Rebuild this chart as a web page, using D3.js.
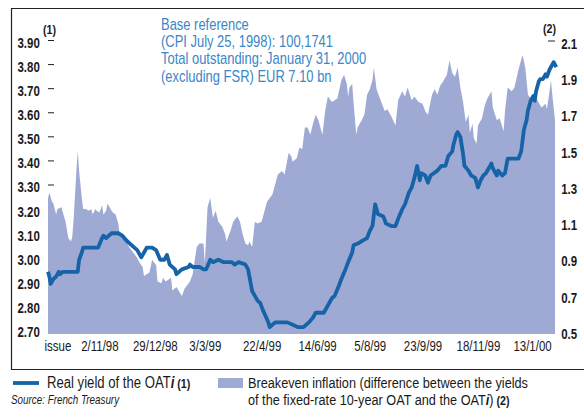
<!DOCTYPE html>
<html>
<head>
<meta charset="utf-8">
<script src="https://cdn.jsdelivr.net/npm/d3@7"></script>
<style>
    body { margin: 0; background: #fff; }
    svg { display: block; }
    text { font-family: "Liberation Sans", Arial, sans-serif; }
</style>
</head>
<body>
<svg id="chart" width="584" height="418"></svg>
<script>
(function() {
    'use strict';

    // Breakeven inflation (right axis), by observation day since issue
    const beDays = [0,1,3,4,6,7,10,11,13,15,17,18,19,21,22,23,25,26,28,30,
        32,33,35,36,38,40,41,43,44,47,48,50,52,53,57,60,63,66,68,70,
        71,73,75,77,78,80,81,84,85,87,89,91,92,95,99,101,105,107,110,112,
        115,116,118,120,122,124,126,129,131,132,135,137,140,142,144,146,148,149,151,153,
        155,158,162,164,166,170,173,175,178,180,181,184,186,188,190,192,194,196,198,200,
        203,205,207,210,212,214,217,219,221,222,223,225,226,228,229,232,234,236,238,240,
        241,243,244,247,249,251,254,257,259,262,264,266,269,271,274,277,279,281,284,286,
        288,290,292,295,297,299,301,303,305,307,309,311,312,314,315,317,318,321,323,325,
        328,329,332,334,337,338,340,343,345,348,351,353,355,358,360,362,365,368,369,371,
        372,373,375];
    const breakeven = [1.25,1.28,1.23,1.22,1.16,1.19,1.20,1.17,1.12,1.03,
        1.01,1.04,1.14,1.40,1.51,1.40,1.25,1.19,1.19,1.18,
        1.19,1.16,1.19,1.18,1.17,1.21,1.16,1.18,1.22,1.18,
        1.17,1.16,1.11,1.05,1.03,0.98,0.95,0.92,0.89,0.87,
        0.82,0.83,0.84,0.91,0.90,0.88,0.79,0.78,0.81,0.79,
        0.80,0.81,0.74,0.76,0.71,0.75,0.79,0.83,0.98,1.00,
        1.00,0.89,1.20,1.25,1.14,1.18,1.12,1.09,1.05,1.01,
        1.07,1.12,1.15,1.12,1.05,1.00,0.99,1.01,0.98,1.12,
        1.11,1.12,1.23,1.25,1.27,1.38,1.40,1.38,1.50,1.48,
        1.45,1.47,1.53,1.52,1.64,1.64,1.60,1.66,1.71,1.68,
        1.60,1.73,1.81,1.78,1.79,1.80,1.90,1.93,1.88,1.81,
        1.86,1.88,1.78,1.60,1.64,1.68,1.71,1.82,1.85,1.90,
        1.97,1.85,1.83,1.77,1.73,1.74,1.70,1.65,1.79,1.84,
        1.81,1.86,1.79,1.81,1.78,1.77,1.73,1.71,1.82,1.85,
        1.82,1.87,1.89,1.93,2.01,1.94,1.92,1.97,1.86,1.78,
        1.67,1.71,1.61,1.66,1.58,1.55,1.65,1.69,1.76,1.80,
        1.84,1.75,1.68,1.69,1.62,1.73,1.86,1.84,1.86,1.96,
        2.04,1.97,1.82,1.79,1.81,1.79,1.75,1.77,1.74,1.84,
        1.90,1.82,1.68];

    // Real yield of the OATi (left axis)
    const ryDays = [0,1,2,3,4,6,8,9,11,22,
        23,25,26,27,37,40,41,43,45,47,
        50,52,55,58,62,66,69,73,77,80,
        83,86,88,90,94,95,99,104,105,107,
        112,115,117,120,122,126,130,136,138,141,
        146,148,151,153,155,157,159,163,164,168,
        172,177,181,185,189,193,196,198,200,204,
        207,210,212,215,217,220,222,225,226,230,
        233,236,238,240,242,244,248,250,254,257,
        259,262,264,267,269,271,273,275,276,279,
        281,283,288,291,294,296,299,300,302,303,
        305,307,308,311,313,316,318,320,322,324,
        327,328,329,332,333,336,338,340,348,350,
        352,354,355,357,359,360,361,363,364,366,
        368,369,371,373,374,376];
    const realYield = [2.95,2.93,2.90,2.91,2.92,2.93,2.95,2.94,2.95,2.95,
        3.00,3.03,3.05,3.05,3.05,3.09,3.10,3.09,3.10,3.11,
        3.11,3.11,3.10,3.08,3.06,3.04,3.01,3.05,3.05,3.04,
        3.00,3.00,3.02,2.98,2.96,2.94,2.96,2.97,2.98,2.97,
        2.97,2.96,2.96,3.00,2.99,3.00,2.99,2.99,2.98,2.99,
        2.98,2.96,2.87,2.85,2.83,2.82,2.79,2.74,2.72,2.74,
        2.74,2.74,2.73,2.72,2.72,2.74,2.76,2.78,2.78,2.78,
        2.81,2.84,2.85,2.89,2.92,2.96,2.99,3.03,3.06,3.07,
        3.08,3.09,3.12,3.14,3.23,3.19,3.18,3.15,3.14,3.14,
        3.17,3.21,3.23,3.28,3.30,3.34,3.39,3.33,3.36,3.35,
        3.32,3.35,3.37,3.39,3.39,3.43,3.45,3.48,3.52,3.53,
        3.51,3.44,3.39,3.37,3.35,3.34,3.30,3.33,3.35,3.36,
        3.39,3.40,3.38,3.35,3.37,3.35,3.36,3.42,3.42,3.45,
        3.54,3.58,3.62,3.66,3.68,3.66,3.70,3.74,3.75,3.75,
        3.77,3.76,3.79,3.81,3.82,3.80];

    const leftTicks = [2.70,2.80,2.90,3.00,3.10,3.20,3.30,3.40,3.50,3.60,3.70,3.80,3.90];
    const rightTicks = [0.5,0.7,0.9,1.1,1.3,1.5,1.7,1.9,2.1];
    const xTickDays = [7,38,79,116,158,199,238,277,318,358];
    const xTickLabels = ['issue','2/11/98','29/12/98','3/3/99','22/4/99','14/6/99','5/8/99','23/9/99','18/11/99','13/1/00'];

    const noteLines = ['Base reference', '(CPI July 25, 1998): 100,1741',
        'Total outstanding: January 31, 2000', '(excluding FSR) EUR 7.10 bn'];

    const lineColor = '#1763a8';
    const areaColor = '#9eaad3';
    const noteColor = '#3a86c6';
    const ink = '#1a1a1a';
    const narrow = 'scale(0.82,1)';   // condensed face, like the original

    const svg = d3.select('#chart');

    const x = d3.scaleLinear().domain([0, 375]).range([48, 555]);
    const yL = d3.scaleLinear().domain([2.70, 3.90]).range([332, 43]);
    const yR = d3.scaleLinear().domain([0.5, 2.1]).range([334, 44]);

    // narrow text placed at (px, py)
    function ntext(parent, px, py, size) {
        return parent.append('text')
            .attr('transform', `translate(${px},${py}) ${narrow}`)
            .style('font-size', size + 'px')
            .attr('fill', ink);
    }

    // frame (left, top, bottom)
    svg.append('path')
        .attr('d', 'M584,8.5 H11.5 V369.5 H584')
        .attr('fill', 'none')
        .attr('stroke', '#222')
        .attr('stroke-width', 1.2);

    // small tick dashes
    svg.selectAll('.ldash')
        .data(leftTicks)
        .enter().append('line')
        .attr('x1', 48).attr('x2', 54)
        .attr('y1', d => yL(d) - 2.5).attr('y2', d => yL(d) - 2.5)
        .attr('stroke', '#222').attr('stroke-width', 1);
    svg.append('line')
        .attr('x1', 548).attr('x2', 555)
        .attr('y1', yR(2.1) - 3).attr('y2', yR(2.1) - 3)
        .attr('stroke', '#222').attr('stroke-width', 1);

    // breakeven area
    const beData = beDays.map((d, i) => ({ day: d, v: breakeven[i] }));
    const area = d3.area()
        .x(d => x(d.day))
        .y0(yR(0.5))
        .y1(d => yR(d.v));
    svg.append('path')
        .datum(beData)
        .attr('d', area)
        .attr('fill', areaColor);

    // real yield line
    const ryData = ryDays.map((d, i) => ({ day: d, v: realYield[i] }));
    const line = d3.line()
        .x(d => x(d.day))
        .y(d => yL(d.v));
    svg.append('path')
        .datum(ryData)
        .attr('d', line)
        .attr('fill', 'none')
        .attr('stroke', lineColor)
        .attr('stroke-width', 3.8)
        .attr('stroke-linejoin', 'round');

    // left axis
    const gl = svg.append('g')
        .attr('transform', 'translate(48,0)')
        .call(d3.axisLeft(yL).tickValues(leftTicks).tickFormat(d3.format('.2f')).tickSize(0).tickPadding(10));
    gl.select('.domain').remove();
    gl.selectAll('text')
        .attr('transform', narrow)
        .style('font-family', '"Liberation Sans", Arial, sans-serif')
        .style('font-size', '14px').style('font-weight', 'bold').attr('fill', ink);

    // right axis
    const gr = svg.append('g')
        .attr('transform', 'translate(555,0)')
        .call(d3.axisRight(yR).tickValues(rightTicks).tickFormat(d3.format('.1f')).tickSize(0).tickPadding(7.5));
    gr.select('.domain').remove();
    gr.selectAll('text')
        .attr('transform', narrow)
        .style('font-family', '"Liberation Sans", Arial, sans-serif')
        .style('font-size', '14px').style('font-weight', 'bold').attr('fill', ink);

    // x axis labels
    const gx = svg.append('g')
        .attr('transform', 'translate(0,341)')
        .call(d3.axisBottom(x).tickValues(xTickDays).tickFormat((d, i) => xTickLabels[i]).tickSize(0).tickPadding(0));
    gx.select('.domain').remove();
    gx.selectAll('text')
        .attr('transform', narrow)
        .style('font-family', '"Liberation Sans", Arial, sans-serif')
        .style('font-size', '14px').attr('fill', ink);

    // axis unit markers
    ntext(svg, 43, 34, 13).style('font-weight', 'bold').text('(1)');
    ntext(svg, 543, 33, 13).style('font-weight', 'bold').text('(2)');

    // note in blue
    noteLines.forEach((s, i) => {
        ntext(svg, 161, 30 + i * 17.2, 15.8).attr('fill', noteColor).text(s);
    });

    // legend
    svg.append('line')
        .attr('x1', 13).attr('x2', 39).attr('y1', 383).attr('y2', 383)
        .attr('stroke', lineColor).attr('stroke-width', 3.8);
    const t1 = ntext(svg, 47, 388, 16);
    t1.append('tspan').text('Real yield of the OAT');
    t1.append('tspan').style('font-style', 'italic').style('font-weight', 'bold').text('i');
    t1.append('tspan').style('font-weight', 'bold').style('font-size', '13px').text(' (1)');

    svg.append('rect')
        .attr('x', 218).attr('y', 378).attr('width', 25).attr('height', 10)
        .attr('fill', areaColor);
    ntext(svg, 248, 388, 15.5).text('Breakeven inflation (difference between the yields');
    const t2 = ntext(svg, 248, 405, 15.5);
    t2.append('tspan').text('of the fixed-rate 10-year OAT and the OAT');
    t2.append('tspan').style('font-style', 'italic').style('font-weight', 'bold').text('i');
    t2.append('tspan').text(')');
    t2.append('tspan').style('font-weight', 'bold').style('font-size', '13px').text('  (2)');

    ntext(svg, 11, 404, 12).style('font-style', 'italic').text('Source: French Treasury');
})();
</script>
</body>
</html>
